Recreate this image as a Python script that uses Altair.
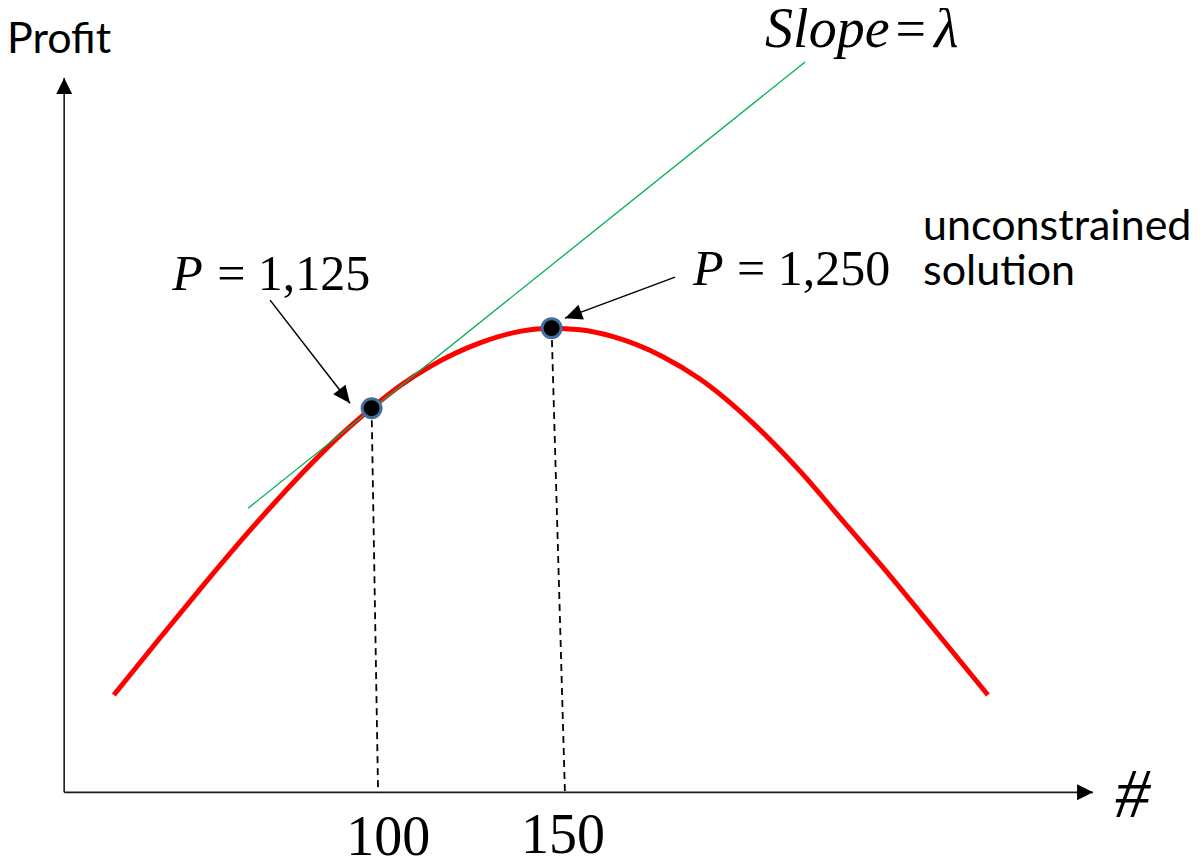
import math
import altair as alt
import pandas as pd

# ---------------- data ----------------
# profit curve (x = number of units "#", p = profit)
curve_x = [28.4, 41.2, 52.3, 66.2, 80.1, 89.3, 100, 107.9, 116.2, 130.1, 141.2,
           150, 157.9, 167.1, 180.9, 191.2, 205.1, 219.0, 230.9, 242.1, 255.9, 271.2]
curve_profit = [677, 766, 842, 934, 1020, 1072, 1125, 1160, 1190, 1227, 1245,
                1250, 1247.4, 1236.6, 1205.4, 1170.6, 1106, 1026.6, 949, 876, 782, 677]

# highlighted solutions
optimum_x = [100, 150]
optimum_profit = [1125, 1250]

# tangent line (slope = lambda) end points
tangent_x = [65.7, 220.4]
tangent_profit = [968.8, 1665.6]

# bottom ends of the dashed drop lines (sketch is slightly slanted)
drop_bottom_x = [101.8, 153.7]

# axes of the sketch
axis_origin_x = 14.6
axis_origin_profit = 525
axis_x_end = 300.4
axis_profit_end = 1640.6

# call-out arrows (tail -> tip)
callout_tail_x = [71.8, 184.3]
callout_tail_profit = [1293.8, 1329.7]
callout_tip_x = [94.0, 153.7]
callout_tip_profit = [1132.8, 1265.6]

# texts
sans_labels = ["Profit", "unconstrained", "solution"]
sans_label_x = [-1.28, 253.2, 253.2]
sans_label_profit = [1679.7, 1387.5, 1317.2]

p_labels = ["P", "P"]
p_label_x = [44.6, 189.3]
p_label_profit = [1309.4, 1317.2]
value_labels = ["= 1,125", "= 1,250"]
value_label_x = [57.1, 201.5]

slope_word = ["Slope"]
slope_word_x = [209.3]
slope_eq = ["="]
slope_eq_x = [245.5]
slope_sym = ["λ"]
slope_sym_x = [256.3]
slope_profit = [1689.0]

tick_labels = ["100", "150"]
tick_label_x = [104.6, 153.2]
tick_label_profit = [426.6, 429.7]

axis_name = ["#"]
axis_name_x = [306.5]
axis_name_profit = [486.0]

# ---------------- scales ----------------
X_DOMAIN = [-1, 329]
P_DOMAIN = [424, 1750]
W, H = 1188, 849
xs = alt.Scale(domain=X_DOMAIN, nice=False, zero=False)
ys = alt.Scale(domain=P_DOMAIN, nice=False, zero=False)


def to_px(x, p):
    px = (x - X_DOMAIN[0]) * W / (X_DOMAIN[1] - X_DOMAIN[0])
    py = (P_DOMAIN[1] - p) * H / (P_DOMAIN[1] - P_DOMAIN[0])
    return px, py


def heading(x0, p0, x1, p1):
    a = to_px(x0, p0)
    b = to_px(x1, p1)
    dx, dy = b[0] - a[0], b[1] - a[1]
    return math.degrees(math.atan2(dx, -dy)) % 360


X = lambda f="x": alt.X(f"{f}:Q", scale=xs, axis=None)
Y = lambda f="p": alt.Y(f"{f}:Q", scale=ys, axis=None)

# ---------------- tables ----------------
curve_df = pd.DataFrame({"x": curve_x, "p": curve_profit})
opt_df = pd.DataFrame({"x": optimum_x, "p": optimum_profit})
tan_df = pd.DataFrame({"x": [tangent_x[0]], "p": [tangent_profit[0]],
                       "x2": [tangent_x[1]], "p2": [tangent_profit[1]]})
drop_df = pd.DataFrame({"x": optimum_x, "p": optimum_profit,
                        "x2": drop_bottom_x,
                        "p2": [axis_origin_profit] * len(optimum_x)})
axes_df = pd.DataFrame({
    "x": [axis_origin_x, axis_origin_x],
    "p": [axis_origin_profit, axis_origin_profit],
    "x2": [axis_origin_x, axis_x_end],
    "p2": [axis_profit_end, axis_origin_profit],
})
axis_heads_df = pd.DataFrame({
    "x": [axis_origin_x, axis_x_end],
    "p": [axis_profit_end, axis_origin_profit],
    "ang": [heading(axis_origin_x, axis_origin_profit, axis_origin_x, axis_profit_end),
            heading(axis_origin_x, axis_origin_profit, axis_x_end, axis_origin_profit)],
})
callout_df = pd.DataFrame({"x": callout_tail_x, "p": callout_tail_profit,
                           "x2": callout_tip_x, "p2": callout_tip_profit})
callout_heads_df = pd.DataFrame({
    "x": callout_tip_x, "p": callout_tip_profit,
    "ang": [heading(a, b, c, d) for a, b, c, d in
            zip(callout_tail_x, callout_tail_profit, callout_tip_x, callout_tip_profit)],
})

seg = lambda df: alt.Chart(df).encode(x=X(), y=Y(), x2="x2:Q", y2="p2:Q")

axes = seg(axes_df).mark_rule(color="#1a1a1a", strokeWidth=1.6)
axis_heads = alt.Chart(axis_heads_df).mark_point(
    shape="M0,0L-1,2L1,2Z", size=256, filled=True, color="black", opacity=1, strokeWidth=0
).encode(x=X(), y=Y(), angle=alt.Angle("ang:Q", scale=None))

drops = seg(drop_df).mark_rule(color="black", strokeWidth=1.8, strokeDash=[7, 5])

curve = alt.Chart(curve_df).mark_line(
    color="#ff0000", strokeWidth=5, interpolate="monotone"
).encode(x=X(), y=Y())

tangent = seg(tan_df).mark_rule(color="#00b050", strokeWidth=1.3)

points = alt.Chart(opt_df).mark_point(
    shape="circle", size=360, filled=True, fill="black", stroke="#41719c",
    strokeWidth=3, opacity=1
).encode(x=X(), y=Y())

callouts = seg(callout_df).mark_rule(color="black", strokeWidth=1.5)
callout_heads = alt.Chart(callout_heads_df).mark_point(
    shape="M0,0L-0.9,2L0.9,2Z", size=300, filled=True, color="black", opacity=1, strokeWidth=0
).encode(x=X(), y=Y(), angle=alt.Angle("ang:Q", scale=None))


def text_layer(labels, xv, pv, font, size, style="normal", align="left"):
    df = pd.DataFrame({"t": labels, "x": xv, "p": pv})
    return alt.Chart(df).mark_text(
        font=font, fontSize=size, fontStyle=style, align=align,
        baseline="alphabetic", color="black"
    ).encode(x=X(), y=Y(), text="t:N")


SERIF = "Liberation Serif"
SANS = "Lato"

texts = [
    text_layer(sans_labels, sans_label_x, sans_label_profit, SANS, 43),
    text_layer(p_labels, p_label_x, p_label_profit, SERIF, 50, "italic"),
    text_layer(value_labels, value_label_x, p_label_profit, SERIF, 50),
    text_layer(slope_word, slope_word_x, slope_profit, SERIF, 56, "italic"),
    text_layer(slope_eq, slope_eq_x, slope_profit, SERIF, 54),
    text_layer(slope_sym, slope_sym_x, slope_profit, SERIF, 56, "italic"),
    text_layer(tick_labels, tick_label_x, tick_label_profit, SERIF, 56, align="center"),
    text_layer(axis_name, axis_name_x, axis_name_profit, SERIF, 70, "italic"),
]

chart = alt.layer(
    axes, axis_heads, drops, curve, tangent, points, callouts, callout_heads, *texts
).properties(
    width=W, height=H, padding=0,
    autosize=alt.AutoSizeParams(type="none"),
).configure_view(stroke=None)

chart.save("out.html", embed_options={"renderer": "svg", "actions": False})
